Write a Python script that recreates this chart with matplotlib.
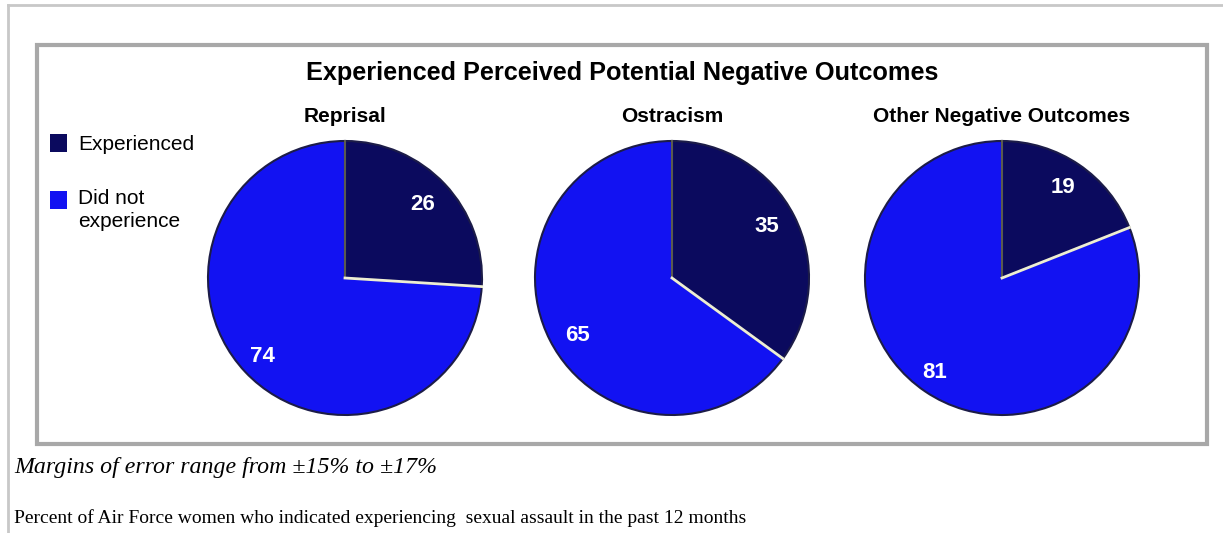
import numpy as np
import matplotlib
matplotlib.use("Agg")
from matplotlib import pyplot
from matplotlib.patches import Rectangle

# data
titles = ["Reprisal", "Ostracism", "Other Negative Outcomes"]
experienced = [26, 35, 19]
not_experienced = [74, 65, 81]
legend_labels = ["Experienced", "Did not\nexperience"]

dark_blue = "#0b0a5e"
bright_blue = "#1212f2"

W, H = 1223, 533
fig = pyplot.figure(figsize=(W / 100, H / 100), dpi=100)
fig.patch.set_facecolor("white")


def fx(x):
    return x / W


def fy(y):
    return 1 - y / H


# outer page frame
fig.add_artist(pyplot.Line2D([fx(8), 1], [fy(5), fy(5)], color="#c8c8c8", lw=2))
fig.add_artist(pyplot.Line2D([fx(8), fx(8)], [fy(5), 0], color="#c8c8c8", lw=2))

# chart box
fig.add_artist(Rectangle((fx(37), fy(444)), fx(1207) - fx(37), fy(45) - fy(444),
                         transform=fig.transFigure, fill=False,
                         edgecolor="#a8a8a8", lw=3))

fig.text(fx(622), fy(73), "Experienced Perceived Potential Negative Outcomes",
         ha="center", va="center", fontsize=18.2, fontweight="bold",
         family="Liberation Sans")

centers_x = [345, 672, 1002]
center_y = 278
radius = 137
pad = 4
label_offsets = [((78, -73), (-83, 79)), ((95, -51), (-95, 58)), ((61, -90), (-67, 95))]

for i, title in enumerate(titles):
    cx = centers_x[i]
    ax = fig.add_axes([fx(cx - radius - pad), fy(center_y + radius + pad),
                       (2 * radius + 2 * pad) / W, (2 * radius + 2 * pad) / H])
    values = [experienced[i], not_experienced[i]]
    ax.pie(values, colors=[dark_blue, bright_blue], startangle=90,
           counterclock=False, radius=radius,
           wedgeprops=dict(edgecolor="#1c1c48", linewidth=1.5))
    # pie() resets the limits to +-1.25, so set them again for this radius
    ax.set_xlim(-(radius + pad), radius + pad)
    ax.set_ylim(-(radius + pad), radius + pad)
    ax.set_aspect("equal")
    ax.axis("off")
    # separator lines between the wedges
    ax.plot([0, 0], [0, radius], color="#5a5a50", lw=1.5)
    ang = np.deg2rad(90 - 360 * experienced[i] / 100)
    ax.plot([0, radius * np.cos(ang)], [0, radius * np.sin(ang)],
            color="#eeeed4", lw=2)
    for (dx, dy), v in zip(label_offsets[i], values):
        ax.text(dx, -dy, str(v), color="white", fontsize=16, fontweight="bold",
                ha="center", va="center", family="Liberation Sans")
    fig.text(fx(cx), fy(117), title, ha="center", va="center", fontsize=15,
             fontweight="bold", family="Liberation Sans")

# legend
for lab, col, ys, yt in zip(legend_labels, [dark_blue, bright_blue],
                            [143, 200], [145, 210]):
    fig.add_artist(Rectangle((fx(50), fy(ys + 9)), 17 / W, 18 / H,
                             transform=fig.transFigure, facecolor=col,
                             edgecolor="none"))
    fig.text(fx(78), fy(yt), lab, ha="left", va="center", fontsize=15,
             family="Liberation Sans", linespacing=1.3)

fig.text(fx(14), fy(467), "Margins of error range from \u00b115% to \u00b117%",
         ha="left", va="center", fontsize=17.2, style="italic",
         family="Liberation Serif")
fig.text(fx(14), fy(518),
         "Percent of Air Force women who indicated experiencing  sexual assault in the past 12 months",
         ha="left", va="center", fontsize=14, family="Liberation Serif")

fig.savefig("out.png", dpi=100)
pyplot.close()
